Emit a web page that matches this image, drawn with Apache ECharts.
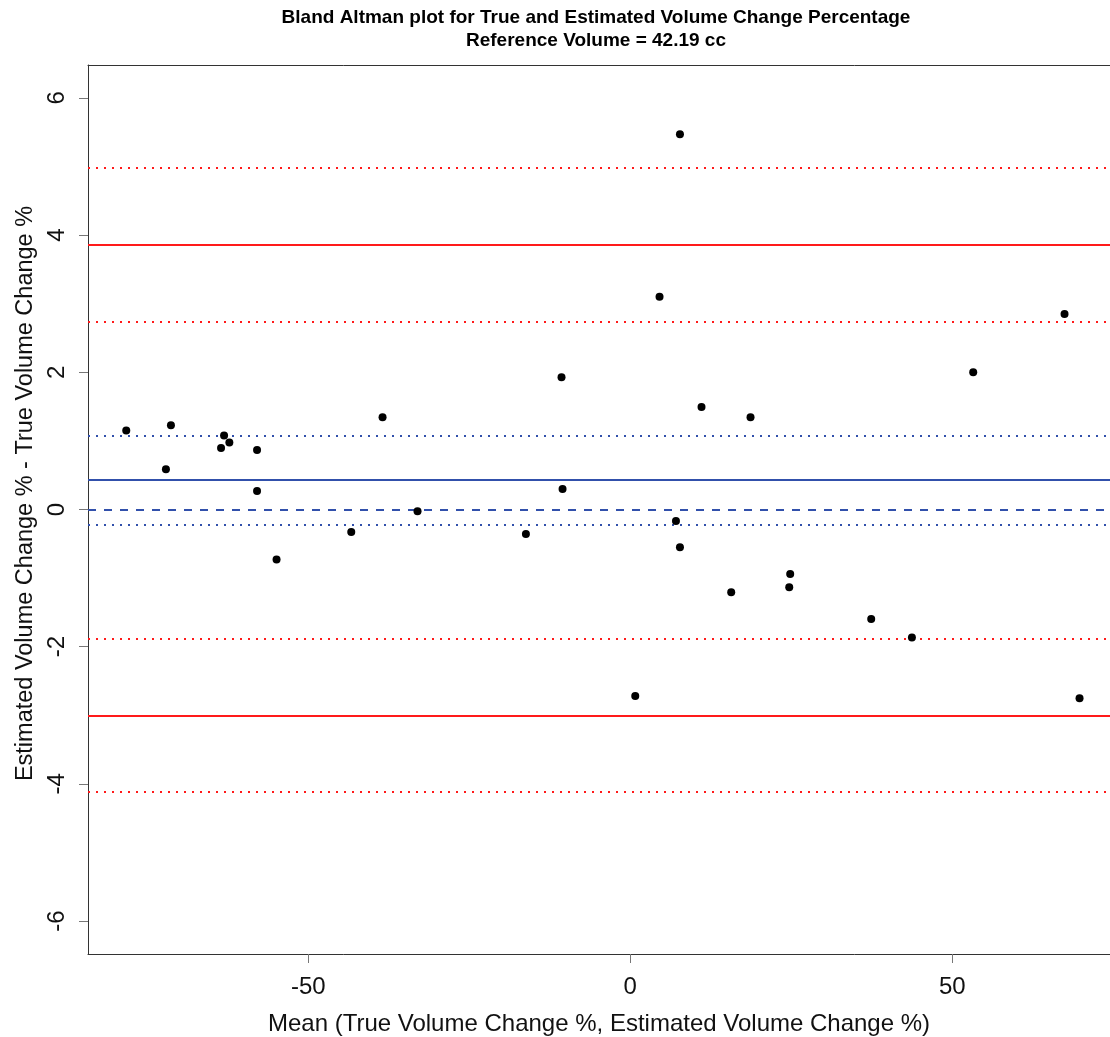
<!DOCTYPE html>
<html>
<head>
<meta charset="utf-8">
<script src="https://cdn.jsdelivr.net/npm/echarts@6/dist/echarts.min.js"></script>
<style>
html,body{margin:0;padding:0;background:#fff;}
#chart{width:1110px;height:1037px;}
</style>
</head>
<body>
<div id="chart"></div>
<script>
// Mean of (true, estimated) volume change %
const meanValues = [-78.26, -71.32, -72.1, -63.07, -62.25, -63.54, -57.95, -57.95, -54.92, -38.46,
  -33.03, -43.32, -16.2, -10.67, -10.51, 0.78, 4.55, 7.1, 7.72, 7.72,
  11.07, 15.68, 18.68, 24.84, 24.69, 37.42, 43.74, 53.26, 67.44, 69.77];
// Difference (estimated - true) volume change %
const diffValues = [1.15, 1.23, 0.586, 1.077, 0.975, 0.896, 0.867, 0.27, -0.73, 1.344,
  -0.026, -0.328, -0.357, 1.927, 0.299, -2.72, 3.10, -0.168, 5.47, -0.551,
  1.494, -1.207, 1.344, -0.94, -1.134, -1.596, -1.866, 2.0, 2.85, -2.75];

const biasLine = 0.43;
const biasCI = [1.067, -0.216];
const zeroLine = 0;
const limitLines = [3.862, -3.0];
const upperLimitCI = [4.978, 2.739];
const lowerLimitCI = [-1.888, -4.12];

const xTicks = [-50, 0, 50];
const yTicks = [-6, -4, -2, 0, 2, 4, 6];

const titleLines = ['Bland Altman plot for True and Estimated Volume Change Percentage', 'Reference Volume = 42.19 cc'];
const xTitle = 'Mean (True Volume Change %, Estimated Volume Change %)';
const yTitle = 'Estimated Volume Change % - True Volume Change %';

const RED = '#ff1a1a';
const BLUE = '#3150ab';
const FONT = 'Liberation Sans, Arial, sans-serif';

function hLine(v, color, type, width) {
  return { yAxis: v, lineStyle: { color: color, type: type, width: width } };
}

const markData = [];
limitLines.forEach(v => markData.push(hLine(v, RED, 'solid', 2)));
upperLimitCI.concat(lowerLimitCI).forEach(v => markData.push(hLine(v, RED, [2, 6], 2)));
markData.push(hLine(biasLine, BLUE, 'solid', 2));
biasCI.forEach(v => markData.push(hLine(v, BLUE, [2, 6], 2)));
markData.push(hLine(zeroLine, BLUE, [8, 8], 2));

const chart = echarts.init(document.getElementById('chart'), null, { renderer: 'canvas' });
chart.setOption({
  animation: false,
  backgroundColor: '#fff',
  title: {
    text: titleLines.join('\n'),
    left: 591,
    textAlign: 'center',
    top: 1,
    textStyle: { fontFamily: FONT, fontSize: 19, fontWeight: 'bold', color: '#000', lineHeight: 23 }
  },
  grid: {
    left: 88, top: 65, right: 0, bottom: 83,
    show: false,
    containLabel: false,
    outerBoundsMode: 'none'
  },
  xAxis: [{
    type: 'value', min: -84.2, max: 74.5,
    splitLine: { show: false },
    axisLine: { show: true, onZero: false, lineStyle: { color: '#333', width: 1 } },
    axisTick: { show: true, customValues: xTicks, length: 9, lineStyle: { color: '#777' } },
    axisLabel: { customValues: xTicks, fontFamily: FONT, fontSize: 24, color: '#111', margin: 21 },
    name: xTitle, nameLocation: 'middle', nameGap: 58,
    nameTextStyle: { fontFamily: FONT, fontSize: 24, color: '#111' }
  }, {
    type: 'value', position: 'top', min: -84.2, max: 74.5,
    splitLine: { show: false },
    axisLine: { show: true, onZero: false, lineStyle: { color: '#333', width: 1 } },
    axisTick: { show: false },
    axisLabel: { show: false }
  }],
  yAxis: {
    type: 'value', min: -6.48, max: 6.48,
    splitLine: { show: false },
    axisLine: { show: true, onZero: false, lineStyle: { color: '#333', width: 1 } },
    axisTick: { show: true, customValues: yTicks, length: 9, lineStyle: { color: '#777' } },
    axisLabel: { customValues: yTicks, rotate: 90, fontFamily: FONT, fontSize: 24, color: '#111', margin: 19 },
    name: yTitle, nameLocation: 'middle', nameGap: 44,
    nameTextStyle: { fontFamily: FONT, fontSize: 23.5, color: '#111', padding: [0, 0, 0, 32] }
  },
  series: [{
    type: 'scatter',
    symbol: 'circle',
    symbolSize: 8,
    itemStyle: { color: '#000', opacity: 1 },
    data: meanValues.map((x, i) => [x, diffValues[i]]),
    z: 5,
    markLine: {
      silent: true,
      symbol: ['none', 'none'],
      label: { show: false },
      data: markData
    }
  }]
});
</script>
</body>
</html>
